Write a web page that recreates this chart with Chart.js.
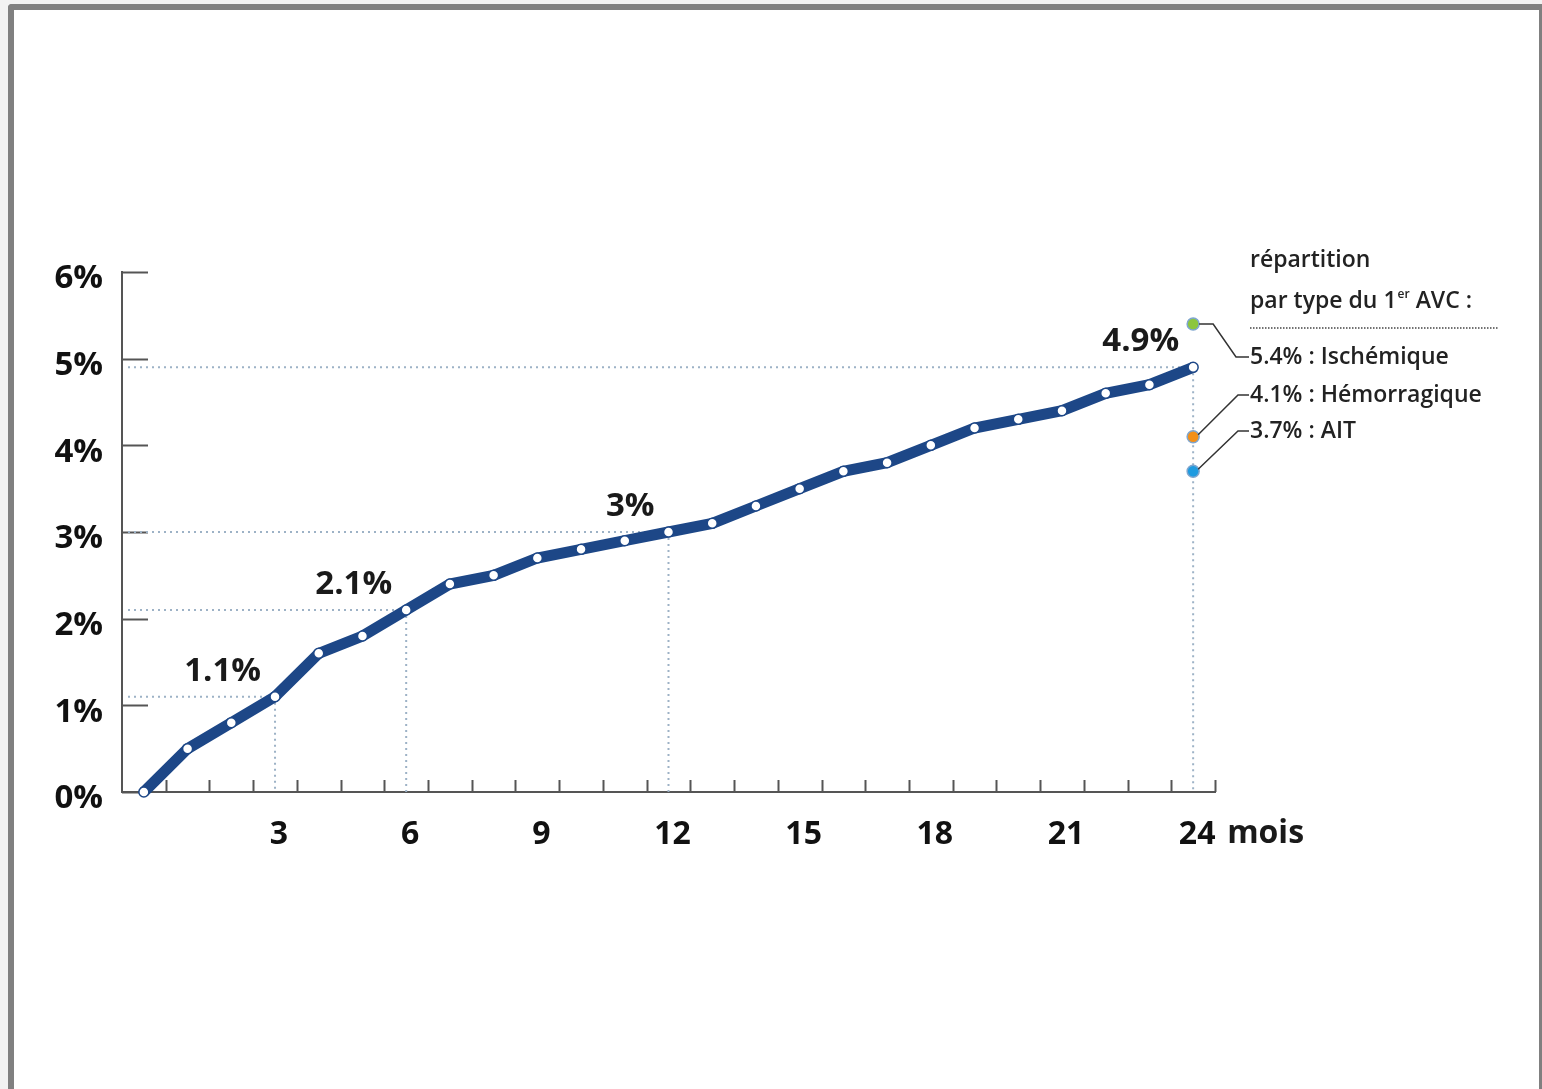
<!DOCTYPE html>
<html lang="fr">
<head>
<meta charset="utf-8">
<script src="https://cdn.jsdelivr.net/npm/chart.js@4.4.1/dist/chart.umd.min.js"></script>
<style>
html, body { margin: 0; padding: 0; background: #f2f2f2; overflow: hidden; }
#frame {
  position: absolute; left: 8px; top: 4px; width: 1534px; height: 1200px;
  box-sizing: border-box; background: #fff;
  border: 6px solid #808080; border-right-width: 3px; border-bottom: none;
  border-top-left-radius: 4px;
}
#wrap { position: absolute; left: 0; top: 0; width: 1542px; height: 1089px; }
</style>
</head>
<body>
<div id="frame"></div>
<div id="wrap"><canvas id="chart"></canvas></div>
<script>
/* DATA */
const months = [0,1,2,3,4,5,6,7,8,9,10,11,12,13,14,15,16,17,18,19,20,21,22,23,24];
const risk = [0,0.5,0.8,1.1,1.6,1.8,2.1,2.4,2.5,2.7,2.8,2.9,3.0,3.1,3.3,3.5,3.7,3.8,4.0,4.2,4.3,4.4,4.6,4.7,4.9];
const yTicks = [0,1,2,3,4,5,6];
const labelMonths = [3,6,9,12,15,18,21,24];

const markedMonths = [3,6,12,24];
const markedLabels = ["1.1%","2.1%","3%","4.9%"];

const subtypes = ["Ischémique","Hémorragique","AIT"];
const subtypeValues = [5.4,4.1,3.7];
const subtypeColors = ["#8cc63e","#f39019","#1e9be0"];

const BLUE = "#1d4787";
const DOT = "#9db2c6";
const FONT = "'Open Sans', 'DejaVu Sans', sans-serif";

const el = (id) => document.getElementById(id);

/* OVERLAY: inner ticks, dotted guides, labels, legend */
const overlay = {
  id: "overlay",
  beforeDatasetsDraw(chart) {
    const { ctx, scales: { x, y } } = chart;
    const x0 = x.left, y0 = y.bottom;
    ctx.save();

    // inner tick marks
    ctx.strokeStyle = "#555";
    ctx.lineWidth = 2;
    yTicks.forEach(v => {
      const py = Math.round(y.getPixelForValue(v)) + 0.5;
      ctx.beginPath(); ctx.moveTo(x0, py); ctx.lineTo(x0 + 26, py); ctx.stroke();
    });
    months.forEach(m => {
      const px = Math.round(x.getPixelForValue(m + 0.5)) + 0.5;
      ctx.beginPath(); ctx.moveTo(px, y0); ctx.lineTo(px, y0 - 12); ctx.stroke();
    });

    // dotted guides
    ctx.strokeStyle = DOT;
    ctx.lineWidth = 2;
    ctx.setLineDash([2, 4]);
    markedMonths.forEach(m => {
      const px = x.getPixelForValue(m);
      const py = y.getPixelForValue(risk[m]);
      ctx.beginPath(); ctx.moveTo(x0 + 6, py); ctx.lineTo(px, py); ctx.stroke();
      ctx.beginPath(); ctx.moveTo(px, py); ctx.lineTo(px, y0); ctx.stroke();
    });
    ctx.setLineDash([]);
    ctx.restore();
  },
  afterDatasetsDraw(chart) {
    const { ctx, scales: { x, y } } = chart;
    ctx.save();

    // value labels
    ctx.fillStyle = "#1a1a1a";
    ctx.font = "bold 33px " + FONT;
    ctx.textAlign = "right";
    ctx.textBaseline = "alphabetic";
    markedMonths.forEach((m, i) => {
      const px = x.getPixelForValue(m);
      const py = y.getPixelForValue(risk[m]);
      ctx.fillText(markedLabels[i], px - 14, py - 16);
    });

    // unit after last month label
    ctx.font = "bold 32px " + FONT;
    ctx.textAlign = "left";
    ctx.textBaseline = "middle";
    ctx.fillText("mois", x.getPixelForValue(24) + 34, y.bottom + 42);

    // legend block
    const lx = 1250;
    ctx.fillStyle = "#222";
    ctx.font = "600 23px " + FONT;
    ctx.fillText("répartition", lx, 260);
    const t = "par type du 1";
    ctx.fillText(t, lx, 301);
    const w = ctx.measureText(t).width;
    ctx.font = "600 12px " + FONT;
    ctx.fillText("er", lx + w + 1, 295);
    const w2 = ctx.measureText("er").width;
    ctx.font = "600 23px " + FONT;
    ctx.fillText(" AVC :", lx + w + w2 + 1, 301);

    ctx.strokeStyle = "#444";
    ctx.lineWidth = 1.5;
    ctx.setLineDash([1.5, 1.5]);
    ctx.beginPath(); ctx.moveTo(lx, 328); ctx.lineTo(1498, 328); ctx.stroke();
    ctx.setLineDash([]);

    const rows = [357, 395, 431];
    const px = x.getPixelForValue(24);
    ctx.strokeStyle = "#333";
    ctx.lineWidth = 1.5;
    subtypes.forEach((s, i) => {
      const py = y.getPixelForValue(subtypeValues[i]);
      ctx.fillStyle = "#222";
      ctx.fillText(subtypeValues[i].toFixed(1) + "% : " + s, lx, rows[i]);
      ctx.beginPath();
      if (i === 0) {
        ctx.moveTo(px + 6, py); ctx.lineTo(px + 20, py);
        ctx.lineTo(lx - 14, rows[i]); ctx.lineTo(lx - 1, rows[i]);
      } else {
        ctx.moveTo(px + 5, py - 2);
        ctx.lineTo(lx - 12, rows[i]); ctx.lineTo(lx - 1, rows[i]);
      }
      ctx.stroke();
    });
    ctx.restore();
  }
};

new Chart(el("chart"), {
  type: "line",
  data: {
    labels: months.map(String),
    datasets: [
      {
        data: risk,
        clip: false,
        borderColor: BLUE,
        borderWidth: 11,
        tension: 0,
        pointRadius: 5,
        pointBackgroundColor: "#fff",
        pointBorderColor: BLUE,
        pointBorderWidth: 1.5
      },
      {
        data: subtypeValues.map(v => ({ x: "24", y: v })),
        clip: false,
        showLine: false,
        pointRadius: 6,
        pointBackgroundColor: subtypeColors,
        pointBorderColor: "#7fa6cf",
        pointBorderWidth: 1.5
      }
    ]
  },
  options: {
    responsive: true,
    maintainAspectRatio: false,
    animation: false,
    layout: { padding: { top: 272, right: 327, left: 0, bottom: 0 } },
    plugins: { legend: { display: false }, tooltip: { enabled: false } },
    scales: {
      x: {
        type: "category",
        offset: true,
        afterFit: (s) => { s.height = 297; },
        grid: { display: true, drawOnChartArea: false, drawTicks: false },
        border: { display: true, color: "#555", width: 2 },
        ticks: {
          autoSkip: false, maxRotation: 0, padding: 24, labelOffset: 4,
          color: "#111",
          font: { family: FONT, weight: "bold", size: 32 },
          callback: (v) => labelMonths.includes(months[v]) ? String(months[v]) : ""
        }
      },
      y: {
        min: 0, max: 6,
        afterFit: (s) => { s.width = 122; },
        afterBuildTicks: (s) => { s.ticks = yTicks.map(v => ({ value: v })); },
        grid: { display: true, drawOnChartArea: false, drawTicks: false },
        border: { display: true, color: "#555", width: 2 },
        ticks: {
          padding: 19, labelOffset: 7,
          color: "#111",
          font: { family: FONT, weight: "bold", size: 33 },
          callback: (v) => v + "%"
        }
      }
    }
  },
  plugins: [overlay]
});
</script>
</body>
</html>
